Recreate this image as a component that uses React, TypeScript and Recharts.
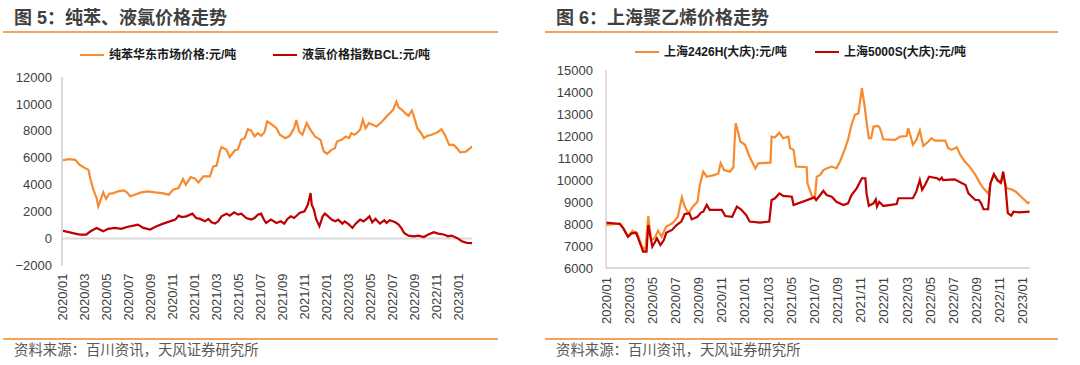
import React from 'react';
import { LineChart, Line, XAxis, YAxis, ReferenceLine } from 'recharts';

// x values are months counted from 2020/01
const xTicks = [0, 2, 4, 6, 8, 10, 12, 14, 16, 18, 20, 22, 24, 26, 28, 30, 32, 34, 36];
const xTickLabels = [
  '2020/01', '2020/03', '2020/05', '2020/07', '2020/09', '2020/11',
  '2021/01', '2021/03', '2021/05', '2021/07', '2021/09', '2021/11',
  '2022/01', '2022/03', '2022/05', '2022/07', '2022/09', '2022/11', '2023/01',
];

// 图5：纯苯华东市场价格
const benzeneT = [
  0, 0.6, 1.2, 1.6, 2.1, 2.4, 2.6, 2.85, 3.15, 3.3, 3.5, 3.75, 4.0, 4.3, 4.7, 5.1, 5.6, 5.9,
  6.2, 6.6, 7.2, 7.85, 8.45, 9.1, 9.7, 10.1, 10.6, 11.0, 11.25, 11.7, 12.1, 12.4, 12.85, 13.45,
  13.75, 14.05, 14.35, 14.5, 14.95, 15.25, 15.7, 16.0, 16.3, 16.6, 16.9, 17.2, 17.5, 17.8, 18.1,
  18.4, 18.65, 19.0, 19.5, 19.8, 20.3, 20.7, 21.1, 21.3, 21.55, 21.85, 22.25, 22.55, 23.0, 23.5,
  23.8, 24.1, 24.5, 24.8, 25.0, 25.5, 25.8, 26.1, 26.3, 26.6, 26.85, 27.1, 27.35, 27.6, 27.9,
  28.3, 28.6, 29.1, 29.5, 29.8, 30.1, 30.4, 30.6, 30.9, 31.2, 31.5, 31.8, 32.0, 32.3, 32.6,
  32.9, 33.2, 33.6, 34.1, 34.5, 34.8, 35.2, 35.6, 35.9, 36.2, 36.7, 37.0, 37.3,
];
const benzeneV = [
  5800, 5900, 5850, 5480, 5230, 5110, 4370, 3630, 3010, 2390, 2860, 3430, 2940, 3330, 3380, 3510, 3580, 3430,
  3140, 3260, 3430, 3510, 3430, 3380, 3260, 3630, 3750, 4420, 4000, 4570, 4450, 4170, 4620, 4620,
  5360, 5400, 6470, 6790, 6590, 6050, 6540, 6640, 7330, 7460, 8120, 8020, 7580, 7830, 7630,
  7880, 8690, 8520, 8200, 7710, 7460, 7630, 8200, 8810, 7950, 7710, 8570, 8120, 7580, 7330,
  6470, 6300, 6590, 6710, 7210, 7380, 7580, 7460, 7830, 7710, 7880, 8080, 8810, 8200, 8570,
  8440, 8320, 8690, 9060, 9310, 9560, 10170, 9750, 9560, 9310, 9110, 9510, 9060, 8200, 7880,
  7460, 7630, 7710, 7880, 8120, 7710, 6960, 6960, 6720, 6400, 6450, 6650, 6850,
];

// 图5：液氯价格指数BCL
const chlorineT = [
  0, 0.9, 1.6, 2.2, 2.6, 3.15, 3.75, 4.2, 4.8, 5.4, 5.9, 6.5, 6.9, 7.4, 8.0, 8.6, 9.2, 9.8,
  10.3, 10.6, 10.9, 11.3, 11.85, 12.2, 12.55, 13.0, 13.3, 13.6, 13.9, 14.2, 14.5, 14.95, 15.25,
  15.65, 16.0, 16.3, 16.75, 17.2, 17.5, 17.8, 18.1, 18.35, 18.55, 19.0, 19.5, 19.9, 20.2, 20.5,
  20.8, 21.1, 21.6, 22.05, 22.35, 22.6, 22.7, 22.9, 23.1, 23.4, 23.7, 23.9, 24.2, 24.5, 24.85,
  25.1, 25.5, 25.7, 26.1, 26.4, 26.7, 27.1, 27.4, 27.7, 27.95, 28.2, 28.5, 28.9, 29.3, 29.5,
  29.8, 30.3, 30.6, 30.9, 31.1, 31.5, 32.0, 32.4, 32.9, 33.3, 33.8, 34.2, 34.7, 35.1, 35.4,
  35.9, 36.35, 36.8, 37.3,
];
const chlorineV = [
  590, 420, 300, 300, 540, 790, 540, 720, 790, 720, 860, 960, 1040, 790, 670, 910, 1110, 1280,
  1410, 1700, 1600, 1650, 1850, 1530, 1460, 1280, 1460, 1210, 1110, 1280, 1650, 1850, 1700,
  1950, 1780, 1850, 1530, 1410, 1530, 1780, 1850, 1410, 1160, 1410, 1160, 1280, 1110, 1460,
  1650, 1530, 1900, 2030, 2520, 3380, 2520, 2150, 1460, 910, 1650, 1850, 1650, 1410, 1280,
  1410, 1110, 1280, 1040, 790, 1110, 1410, 1280, 1460, 1650, 1210, 1460, 1110, 1360, 1160,
  1360, 1210, 1040, 720, 420, 220, 170, 220, 120, 300, 470, 370, 300, 170, 220,
  50, -200, -320, -340,
];

// 图6：上海2426H(大庆)
const pe2426T = [
  0, 1.2, 1.5, 1.9, 2.3, 2.7, 3.1, 3.4, 3.65, 3.9, 4.2, 4.5, 4.8, 5.2, 5.8, 6.2, 6.55, 6.8, 7.1,
  7.5, 7.9, 8.1, 8.4, 8.7, 9.4, 9.7, 9.9, 10.2, 10.7, 11.0, 11.1, 11.2, 11.4, 11.6, 12.0, 12.4,
  12.9, 13.15, 14.2, 14.3, 14.6, 14.97, 15.3, 15.75, 15.9, 16.2, 16.4, 17.33, 17.4, 17.8, 18.05,
  18.2, 18.5, 18.77, 19.1, 19.5, 19.9, 20.2, 20.6, 20.9, 21.2, 21.5, 21.8, 22.1, 22.3, 22.5,
  22.7, 22.9, 23.1, 23.5, 23.66, 23.95, 24.96, 25.4, 25.96, 26.1, 26.3, 26.5, 26.8, 27.1, 27.4,
  27.85, 28.1, 28.4, 29.3, 29.55, 29.85, 30.3, 30.6, 31.0, 31.4, 31.9, 32.3, 32.6, 33.0, 33.3,
  33.5, 33.85, 34.1, 34.3, 34.6, 35.0, 35.4, 35.85, 36.3, 36.45, 36.6,
];
const pe2426V = [
  7955, 8030, 7800, 7420, 7700, 7575, 6970, 6820, 8360, 7270, 7350, 7700, 7420, 7880, 8060, 8330, 9210, 8790, 8490,
  8790, 9010, 9770, 10380, 10150, 10230, 10300, 10760, 10450, 10380, 10580, 11670, 12580, 12200, 11750, 11600, 11060,
  10530, 10760, 10790, 11970, 11940, 12150, 11900, 11970, 11450, 11370, 10610, 10580, 9850, 9240, 9240,
  10150, 10230, 10450, 10530, 10610, 10530, 10830, 11370, 11820, 12500, 12960, 13030, 14170, 13490, 12650,
  11900, 11900, 12430, 12460, 12350, 11850, 11820, 11970, 12000, 12350, 12000, 11600, 11820, 12250, 11550,
  11750, 11900, 11790, 11790, 11450, 11370, 11490, 11140, 10830, 10610, 10230, 9850, 9620, 9390, 10000,
  10230, 9930, 9850, 10230, 9620, 9580, 9470, 9240, 9010, 8940, 9010,
];

// 图6：上海5000S(大庆)
const pe5000T = [
  0, 1.2, 1.5, 1.9, 2.2, 2.6, 3.0, 3.2, 3.5, 3.65, 4.0, 4.2, 4.4, 4.7, 5.0, 5.2, 5.7, 6.1, 6.5,
  6.8, 7.2, 7.4, 7.9, 8.2, 8.4, 8.7, 8.96, 10.0, 10.3, 10.9, 11.3, 11.65, 12.1, 12.4, 13.3, 14.1,
  14.3, 14.6, 14.97, 15.3, 16.05, 16.2, 18.0, 18.15, 18.5, 18.77, 19.05, 19.5, 19.9, 20.5, 20.9,
  21.2, 21.65, 22.1, 22.4, 22.5, 22.7, 23.1, 23.3, 23.4, 23.6, 23.95, 25.1, 25.25, 26.5, 26.8,
  27.1, 27.3, 27.55, 27.9, 28.6, 28.8, 29.0, 29.1, 30.1, 31.05, 31.3, 31.6, 31.9, 32.2, 32.4,
  32.6, 33.0, 33.2, 33.5, 33.8, 34.1, 34.3, 34.5, 34.7, 35.0, 35.2, 35.65, 36.6,
];
const pe5000V = [
  8060, 8000, 7800, 7420, 7575, 7600, 7045, 6740, 6740, 7955, 6970, 7150, 7350, 7045, 7270, 7600, 7730, 7955, 8110,
  8450, 8490, 8210, 8330, 8520, 8560, 8870, 8640, 8640, 8360, 8330, 8790, 8670, 8410, 8110, 8060, 8110,
  9090, 9170, 9390, 9280, 9240, 8860, 9210, 9090, 9320, 9510, 9320, 9240, 9010, 8860, 8940,
  9320, 9620, 10080, 10080, 9390, 8830, 8940, 9120, 8790, 9010, 8820, 8910, 9170, 9170, 9470,
  10000, 9550, 9770, 10150, 10080, 10000, 10110, 10000, 10030, 9770, 9390, 9240, 9090, 9090, 8940,
  8670, 8670, 9850, 10270, 10000, 9880, 10380, 9700, 8490, 8380, 8560, 8530, 8560,
];

const leftYTicks = [-2000, 0, 2000, 4000, 6000, 8000, 10000, 12000];
const rightYTicks = [6000, 7000, 8000, 9000, 10000, 11000, 12000, 13000, 14000, 15000];

const toPoints = (ts: number[], vs: number[]) => ts.map((t, i) => ({ t, v: vs[i] }));

const FONT = '"Liberation Sans", Arial, "Noto Sans CJK SC", sans-serif';
const ORANGE = '#F68B2F';
const RED = '#C00000';
const ACCENT = '#F5A25D';
const GRID = '#D9D9D9';

function DateTick(props: any) {
  const { x, y, payload } = props;
  const label = xTickLabels[xTicks.indexOf(payload.value)];
  return (
    <text
      x={x}
      y={y}
      transform={`rotate(-90, ${x}, ${y})`}
      textAnchor="end"
      dominantBaseline="central"
      fontSize={13}
      fill="#404040"
      fontFamily={FONT}
    >
      {label}
    </text>
  );
}

const fmtY = (v: number) => String(v).replace('-', '\u2212');

function Legend2({ left, top, items }: { left: number; top: number; items: { x: number; color: string; label: string }[] }) {
  return (
    <>
      {items.map((it) => (
        <div key={it.label} style={{ position: 'absolute', left: left + it.x, top, height: 12, display: 'flex', alignItems: 'center' }}>
          <div style={{ width: 24, height: 2, background: it.color, marginRight: 5 }} />
          <span style={{ fontSize: 12, lineHeight: '12px', fontWeight: 'bold', color: '#1a1a1a', whiteSpace: 'nowrap' }}>{it.label}</span>
        </div>
      ))}
    </>
  );
}

function Frame({ left, width, title }: { left: number; width: number; title: string }) {
  return (
    <>
      <div style={{ position: 'absolute', left: left + 11, top: 9, fontSize: 18, lineHeight: '18px', fontWeight: 'bold', color: '#404040', whiteSpace: 'nowrap' }}>
        {title}
      </div>
      <div style={{ position: 'absolute', left, top: 31, width, height: 2, background: ACCENT }} />
      <div style={{ position: 'absolute', left, top: 338, width, height: 2, background: ACCENT }} />
      <div style={{ position: 'absolute', left: left + 11, top: 342, fontSize: 14.4, lineHeight: '16px', color: '#595959', whiteSpace: 'nowrap' }}>
        资料来源：百川资讯，天风证券研究所
      </div>
    </>
  );
}

export default function App() {
  const benzene = toPoints(benzeneT, benzeneV);
  const chlorine = toPoints(chlorineT, chlorineV);
  const pe2426 = toPoints(pe2426T, pe2426V);
  const pe5000 = toPoints(pe5000T, pe5000V);

  return (
    <div style={{ position: 'absolute', left: 0, top: 0, width: 1080, height: 365, background: '#fff', fontFamily: FONT, overflow: 'hidden' }}>
      <Frame left={3} width={495} title="图 5：纯苯、液氯价格走势" />
      <Frame left={545} width={513} title="图 6：上海聚乙烯价格走势" />

      <Legend2
        left={0}
        top={49}
        items={[
          { x: 80, color: ORANGE, label: '纯苯华东市场价格:元/吨' },
          { x: 273, color: RED, label: '液氯价格指数BCL:元/吨' },
        ]}
      />
      <Legend2
        left={540}
        top={46}
        items={[
          { x: 95, color: ORANGE, label: '上海2426H(大庆):元/吨' },
          { x: 275, color: RED, label: '上海5000S(大庆):元/吨' },
        ]}
      />

      <div style={{ position: 'absolute', left: 0, top: 0 }}>
        <LineChart width={540} height={365} margin={{ top: 77, right: 67.7, left: 0, bottom: 0 }}>
          <XAxis
            type="number"
            dataKey="t"
            domain={[0, 37.3]}
            ticks={xTicks}
            interval={0}
            allowDataOverflow
            axisLine={false}
            tickLine={false}
            tickSize={0}
            tickMargin={8}
            height={99.5}
            tick={<DateTick />}
          />
          <YAxis
            type="number"
            domain={[-2000, 12000]}
            ticks={leftYTicks}
            interval={0}
            width={62}
            axisLine={{ stroke: GRID, strokeWidth: 2 }}
            tickLine={false}
            tickSize={0}
            tickMargin={10}
            tickFormatter={fmtY}
            tick={{ fontSize: 13, fill: '#404040', fontFamily: FONT }}
          />
          <ReferenceLine y={0} stroke={GRID} strokeWidth={2} />
          <Line data={benzene} dataKey="v" type="linear" stroke={ORANGE} strokeWidth={2.2} dot={false} isAnimationActive={false} />
          <Line data={chlorine} dataKey="v" type="linear" stroke={RED} strokeWidth={2.2} dot={false} isAnimationActive={false} />
        </LineChart>
      </div>

      <div style={{ position: 'absolute', left: 540, top: 0 }}>
        <LineChart width={540} height={365} margin={{ top: 70, right: 50.2, left: 0, bottom: 0 }}>
          <XAxis
            type="number"
            dataKey="t"
            domain={[0, 36.6]}
            ticks={xTicks}
            interval={0}
            allowDataOverflow
            axisLine={{ stroke: GRID, strokeWidth: 2 }}
            tickLine={false}
            tickSize={0}
            tickMargin={9}
            height={97}
            tick={<DateTick />}
          />
          <YAxis
            type="number"
            domain={[6000, 15000]}
            ticks={rightYTicks}
            interval={0}
            width={66}
            axisLine={{ stroke: '#BFBFBF', strokeWidth: 1 }}
            tickLine={false}
            tickSize={0}
            tickMargin={13}
            tick={{ fontSize: 13, fill: '#404040', fontFamily: FONT }}
          />
          <Line data={pe2426} dataKey="v" type="linear" stroke={ORANGE} strokeWidth={2.2} dot={false} isAnimationActive={false} />
          <Line data={pe5000} dataKey="v" type="linear" stroke={RED} strokeWidth={2.2} dot={false} isAnimationActive={false} />
        </LineChart>
      </div>
    </div>
  );
}
